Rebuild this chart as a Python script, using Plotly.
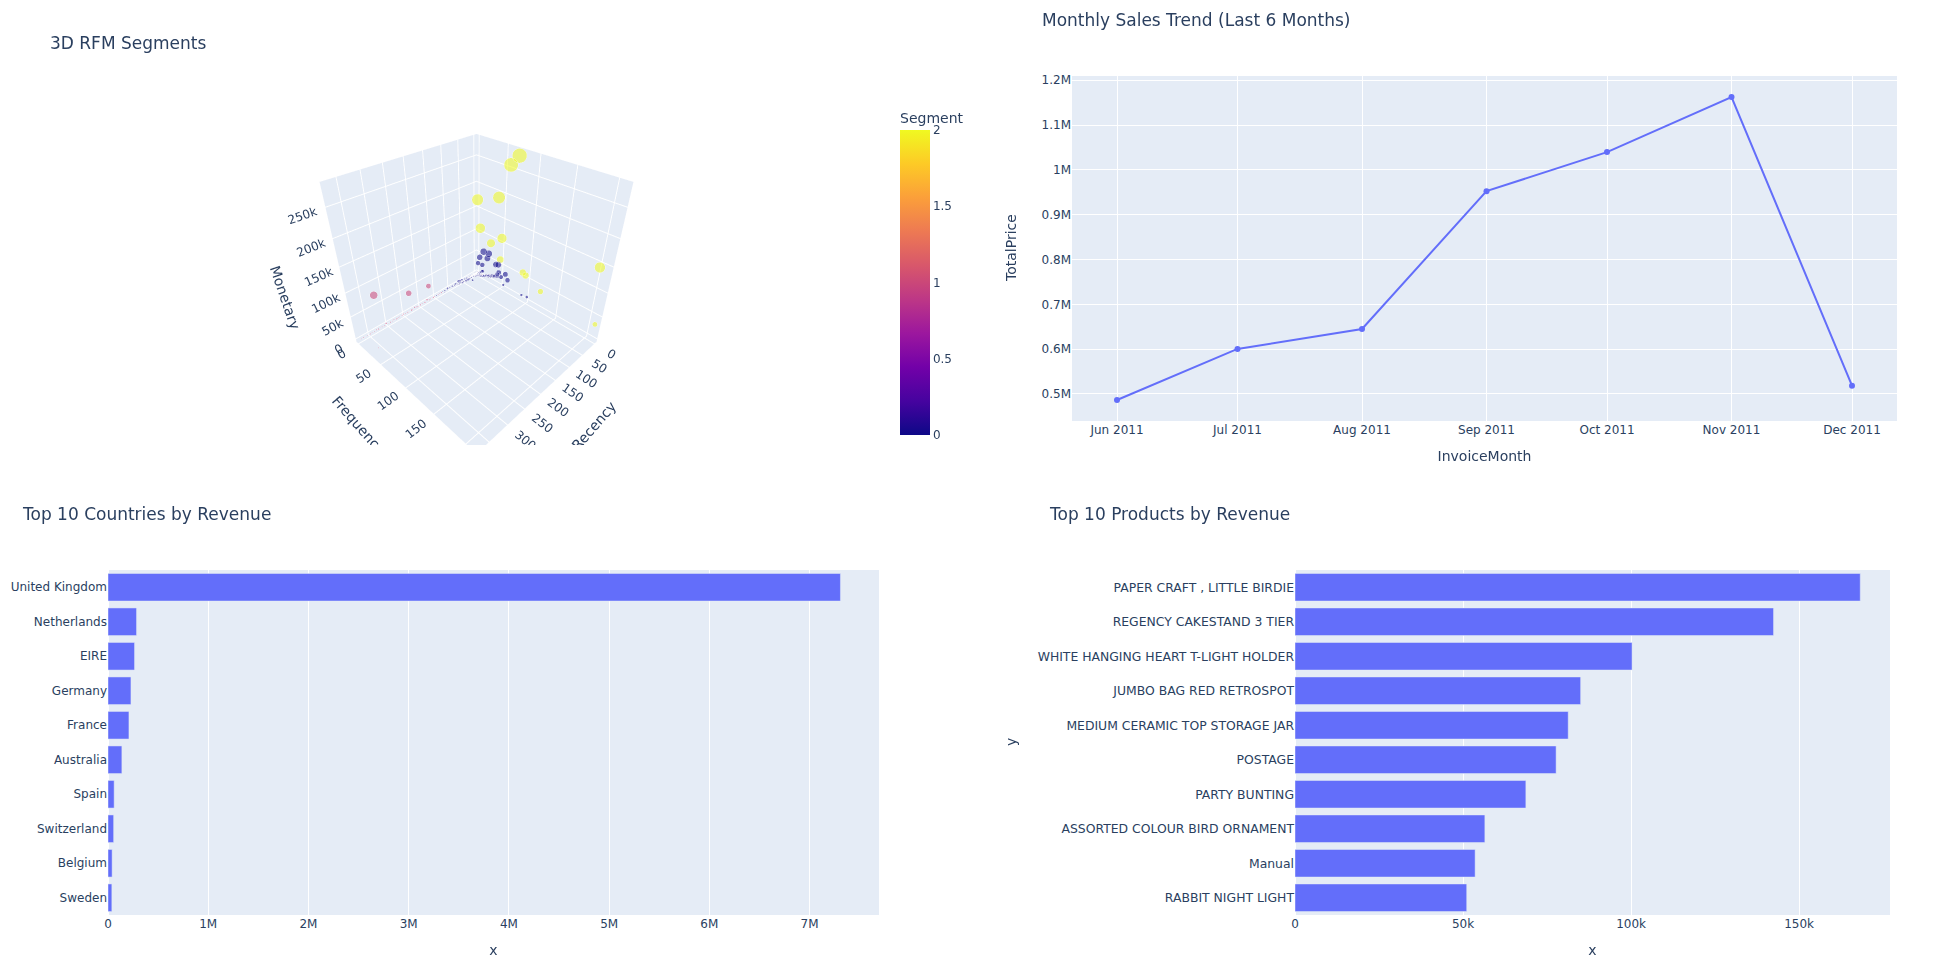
import plotly.graph_objects as go

W, H = 1940, 973

# --- RFM customers ---
recency = [1, 0, 0, 8, 24, 10, 3, 3, 0, 2, 1, 0, 0,
           325, 235, 172,
           0, 1, 2, 0, 3, 1, 2, 1, 3, 8, 5, 1, 1, 1, 1,
           4, 6, 7, 9, 10, 11, 12, 14, 15, 16, 18, 19, 21, 22, 24, 25, 26, 28, 30, 31, 33, 35, 37, 39, 40,
           42, 44, 46, 47, 50, 52, 54, 57, 59, 61, 64, 66, 68, 71, 73, 75, 78, 81, 84, 87, 90, 93, 96, 100,
           104, 108, 113, 118, 122, 128, 133, 138, 143,
           3, 5, 2, 8, 1, 11, 4, 7, 2, 15, 3, 9, 6, 1, 12, 5, 18, 2, 22, 10, 4, 7, 3, 14, 1, 26, 8, 2, 5,
           19, 12, 3, 30, 6, 9, 1, 35, 44, 52, 60, 68, 75, 40, 57,
           150, 156, 162, 168, 174, 180, 186, 190, 196, 203, 209, 214, 220, 226, 232, 238, 243, 249, 255,
           260, 266, 271, 277, 283, 288, 294, 299, 305, 311, 317, 322, 328, 333, 339, 345, 351, 357, 363,
           368, 373, 362]
frequency = [73, 60, 2, 46, 21, 55, 31, 50, 91, 97, 124, 210, 201,
             2, 3, 1,
             15, 26, 8, 23, 5, 13, 46, 41, 48, 68, 46, 60, 57, 92, 102,
             2, 3, 1, 4, 2, 5, 3, 1, 6, 2, 4, 3, 1, 5, 2, 3, 6, 1, 4, 2, 3, 1, 5, 2, 4,
             1, 3, 2, 6, 1, 4, 2, 3, 1, 2, 5, 1, 3, 2, 1, 4, 2, 1, 3, 2, 1, 2, 3, 1,
             2, 1, 3, 1, 2, 1, 2, 1, 1,
             14, 18, 22, 11, 27, 9, 31, 16, 35, 8, 24, 13, 20, 38, 10, 29, 7, 42, 6, 17, 33, 12, 26, 9, 45, 5, 21, 37, 28,
             8, 15, 40, 6, 23, 19, 52, 7, 9, 11, 6, 8, 5, 14, 10,
             2, 1, 3, 1, 2, 1, 1, 3, 1, 2, 1, 2, 1, 1, 3, 1, 2, 1, 1,
             2, 1, 1, 3, 1, 1, 2, 1, 1, 2, 1, 1, 2, 1, 1, 1, 2, 1, 1,
             1, 1, 30]
monetary = [277000, 257000, 168500, 194400, 124900, 117400, 91000, 65000, 60700, 58800, 40500, 33700, 143800,
            77200, 44500, 34000,
            61000, 63000, 44000, 50000, 28000, 28000, 50000, 47000, 33000, 30000, 27600, 36000, 8000, 8500, 11000,
            1600, 2900, 2400, 3800, 1900, 5200, 3100, 2100, 6400, 2600, 4300, 3600, 1500, 5700, 2400, 3300, 7200, 1400, 4800,
            2100, 3800, 1700, 6200, 2400, 4500,
            1500, 3500, 2600, 7800, 1400, 5000, 2400, 4000, 1300, 2600, 8500, 1700, 6900, 2800, 1200, 9400, 2100, 1500, 5200, 2400,
            1300, 2600, 4500, 1400,
            3000, 1500, 5700, 1400, 2600, 1500, 2800, 1300, 1700,
            4200, 6100, 8300, 3600, 11000, 2900, 13500, 5200, 15800, 2700, 9400, 4700, 7200, 17000, 3300, 12300, 2500,
            20500, 2200, 6300, 14800, 4100, 10800, 3500, 22000, 1900, 8000, 16500, 11500,
            3000, 5600, 19000, 2400, 9000, 7100, 24000, 5500, 7500, 9800, 4000, 6500, 3400, 5200, 8500,
            2400, 1400, 3800, 1200, 2100, 4200, 1000, 3500, 1500, 2400, 1200, 2600, 3100, 1300, 3300, 1000, 2100, 1400, 2500,
            1900, 1000, 1300, 3000, 2200, 1200, 2100, 1000, 3800, 1900, 1200, 1000, 2400, 2000, 1300, 1000, 1900, 1200, 1000,
            1300, 900, 1000]
segment = [2, 2, 2, 2, 2, 2, 2, 2, 2, 2, 2, 2, 2,
           1, 1, 1,
           0, 0, 0, 0, 0, 0, 0, 0, 0, 0, 0, 0, 0, 0, 0] + \
          [0, 0, 0, 0, 0, 0, 0, 0, 0, 0, 0, 0, 0, 0, 0, 0, 0, 0, 0, 0, 0, 0, 0, 0, 0, 0,
           0, 0, 0, 0, 0, 0, 0, 0, 0, 0, 0, 0, 0, 0, 0, 0, 0, 0, 0, 0, 0, 0, 0, 0,
           0, 0, 0, 0, 0, 1, 1, 1, 1] + \
          [0, 0, 0, 0, 0, 0, 0, 0, 0, 0, 0, 0, 0, 0, 0, 0, 0, 0, 0, 0, 0, 0, 0, 0, 0, 0, 0, 0, 0,
           0, 0, 0, 0, 0, 0, 0, 0, 0, 0, 0, 0, 0, 0, 0] + \
          [1, 1, 1, 1, 1, 1, 1, 1, 1, 1, 1, 1, 1, 1, 1, 1, 1, 1, 1,
           1, 1, 1, 1, 1, 1, 1, 1, 1, 1, 1, 1, 1, 1, 1, 1, 1, 1, 1,
           1, 1, 1]

# the dense low-value band along the Recency edge and its blob near the back corner
band_recency = [1, 1, 2, 2, 2, 3, 3, 3, 4, 4,
                4, 5, 5, 5, 6, 6, 7, 7, 8, 8,
                9, 9, 10, 10, 11, 11, 12, 12, 13, 14,
                14, 15, 15, 16, 17, 17, 18, 19, 19, 20,
                21, 22, 22, 23, 24, 25, 25, 26, 27, 28,
                29, 30, 30, 31, 32, 33, 34, 36, 36, 38,
                39, 41, 43, 45, 48, 49, 51, 53, 55, 56,
                58, 60, 62, 63, 65, 67, 70, 72, 74, 77,
                79, 80, 83, 85, 88, 91, 94, 98, 102, 106,
                110, 112, 116, 119, 121, 125, 127, 130, 135, 137,
                140, 145, 148, 152, 155, 160, 165, 170, 178, 184,
                192, 199, 207, 215, 224, 233, 246, 258, 270, 285]
band_frequency = [3, 9, 1, 6, 14, 2, 5, 11, 1, 8,
                  4, 2, 7, 16, 3, 1, 5, 10, 2, 6,
                  1, 12, 4, 3, 2, 7, 1, 5, 3, 2,
                  9, 1, 4, 6, 2, 3, 1, 8, 2, 5,
                  1, 3, 2, 6, 1, 2, 4, 1, 3, 2,
                  5, 1, 3, 2, 1, 4, 2, 1, 3, 2,
                  1, 3, 2, 1, 2, 4, 1, 2, 1, 3,
                  2, 1, 4, 2, 1, 3, 1, 2, 1, 3,
                  1, 2, 1, 2, 1, 3, 1, 2, 1, 1,
                  2, 1, 1, 2, 1, 3, 1, 1, 2, 1,
                  1, 2, 1, 1, 2, 1, 1, 1, 2, 1,
                  1, 1, 2, 1, 1, 1, 1, 2, 1, 1]
band_monetary = [2700, 7800, 1400, 4500, 12900, 1500, 3600, 9300, 1200, 6600,
                 3000, 1350, 5400, 15600, 2100, 1100, 3900, 8700, 1300, 4800,
                 1000, 10800, 2850, 2000, 1200, 6000, 1000, 3600, 1900, 1150,
                 7500, 1000, 2900, 4500, 1300, 2100, 900, 6300, 1100, 3600,
                 900, 1950, 1000, 4500, 800, 1050, 2550, 800, 1800, 960,
                 3300, 750, 1700, 900, 700, 2300, 870, 650, 1550, 800,
                 600, 1450, 780, 600, 720, 2100, 550, 660, 500, 1200,
                 630, 500, 1850, 570, 500, 1100, 450, 540, 450, 1000,
                 450, 500, 450, 480, 400, 900, 400, 450, 400, 350,
                 600, 400, 350, 500, 350, 840, 350, 350, 450, 320,
                 320, 420, 320, 320, 400, 320, 320, 320, 360, 280,
                 280, 280, 330, 280, 280, 280, 280, 300, 250, 250]
band_segment = [0, 0, 0, 0, 0, 0, 0, 0, 0, 0,
                0, 0, 0, 0, 0, 0, 0, 0, 0, 0,
                0, 0, 0, 0, 0, 0, 0, 0, 0, 0,
                0, 0, 0, 0, 0, 0, 0, 0, 0, 0,
                0, 0, 0, 0, 0, 0, 0, 0, 0, 0,
                0, 0, 0, 0, 0, 0, 0, 0, 0, 0,
                0, 0, 0, 0, 0, 0, 0, 0, 0, 0,
                0, 0, 0, 0, 0, 0, 0, 0, 0, 0,
                0, 0, 0, 0, 0, 0, 0, 0, 0, 0,
                0, 0, 0, 0, 0, 0, 0, 0, 0, 0,
                1, 1, 1, 1, 1, 1, 1, 1, 1, 1,
                1, 1, 1, 1, 1, 1, 1, 1, 1, 1]

# --- Monthly trend ---
months = ["2011-06-01", "2011-07-01", "2011-08-01", "2011-09-01", "2011-10-01", "2011-11-01", "2011-12-01"]
month_sales = [486600, 600500, 645000, 952600, 1039700, 1162600, 518600]

# --- Top countries ---
countries = ["United Kingdom", "Netherlands", "EIRE", "Germany", "France",
             "Australia", "Spain", "Switzerland", "Belgium", "Sweden"]
country_rev = [7308000, 285000, 265000, 229000, 209000, 138500, 61500, 56400, 41200, 38400]

# --- Top products ---
products = ["PAPER CRAFT , LITTLE BIRDIE", "REGENCY CAKESTAND 3 TIER", "WHITE HANGING HEART T-LIGHT HOLDER",
            "JUMBO BAG RED RETROSPOT", "MEDIUM CERAMIC TOP STORAGE JAR", "POSTAGE", "PARTY BUNTING",
            "ASSORTED COLOUR BIRD ORNAMENT", "Manual", "RABBIT NIGHT LIGHT"]
product_rev = [168200, 142400, 100300, 85000, 81300, 77700, 68700, 56500, 53600, 51100]


def fx(a, b):
    return [a / W, b / W]


def fy(top, bottom):
    return [1 - bottom / H, 1 - top / H]


all_m = monetary + band_monetary

fig = go.Figure()

fig.add_trace(go.Scatter3d(
    x=recency + band_recency, y=frequency + band_frequency, z=all_m, mode="markers", showlegend=False,
    opacity=0.8,
    marker=dict(size=all_m, sizemode="area", sizeref=2 * max(all_m) / 34 ** 2,
                color=segment + band_segment, coloraxis="coloraxis", symbol="circle"),
    scene="scene"))

fig.add_trace(go.Scatter(x=months, y=month_sales, mode="lines+markers", showlegend=False,
                         marker=dict(color="#636efa"), line=dict(color="#636efa"),
                         xaxis="x", yaxis="y"))
fig.add_trace(go.Bar(x=country_rev, y=countries, orientation="h", showlegend=False,
                     marker=dict(color="#636efa"), xaxis="x2", yaxis="y2"))
fig.add_trace(go.Bar(x=product_rev, y=products, orientation="h", showlegend=False,
                     marker=dict(color="#636efa"), xaxis="x3", yaxis="y3"))

fig.update_layout(
    width=W, height=H, autosize=False,
    margin=dict(l=0, r=0, t=0, b=0),
    template="plotly",
    font=dict(family="DejaVu Sans"),
    bargap=0.2,
    scene=dict(
        domain=dict(x=fx(63, 890), y=fy(100, 445)),
        xaxis=dict(title=dict(text="Recency"), range=[-9, 382]),
        yaxis=dict(title=dict(text="Frequency"), range=[-5, 215]),
        zaxis=dict(title=dict(text="Monetary"), range=[-7000, 287000]),
    ),
    coloraxis=dict(
        colorscale="Plasma", cmin=0, cmax=2,
        colorbar=dict(title=dict(text="Segment"), thickness=30, x=900 / W, xanchor="left", xpad=0,
                      lenmode="pixels", len=326, y=1 - 435 / H, yanchor="bottom", ypad=0,
                      tickvals=[0, 0.5, 1, 1.5, 2], outlinewidth=0),
    ),
    xaxis=dict(domain=fx(1072, 1897), anchor="y", title=dict(text="InvoiceMonth"), automargin=False,
               tickformat="%b %Y", dtick="M1", ticklabelmode="instant"),
    yaxis=dict(domain=fy(76, 421), anchor="x", automargin=False),
    xaxis2=dict(domain=fx(108, 879), anchor="y2", title=dict(text="x"), automargin=False),
    yaxis2=dict(domain=fy(570, 915), anchor="x2", autorange="reversed", automargin=False),
    xaxis3=dict(domain=fx(1295, 1890), anchor="y3", title=dict(text="x"), automargin=False),
    yaxis3=dict(domain=fy(570, 915), anchor="x3", autorange="reversed", automargin=False,
                tickfont=dict(size=12.4)),
)

titles = [("3D RFM Segments", 47.5, 43), ("Monthly Sales Trend (Last 6 Months)", 1040, 20),
          ("Top 10 Countries by Revenue", 20, 514), ("Top 10 Products by Revenue", 1047, 514)]
for text, px_x, px_y in titles:
    fig.add_annotation(text=text, xref="paper", yref="paper", x=px_x / W, y=1 - px_y / H,
                       xanchor="left", yanchor="middle", showarrow=False, font=dict(size=17))

side_titles = [("TotalPrice", 1011, 248), ("y", 1011, 742)]
for text, px_x, px_y in side_titles:
    fig.add_annotation(text=text, xref="paper", yref="paper", x=px_x / W, y=1 - px_y / H,
                       xanchor="center", yanchor="middle", showarrow=False, textangle=-90, font=dict(size=14))

fig.write_html("out.html", config=dict(displayModeBar=False), post_script="document.body.style.margin='0';")
